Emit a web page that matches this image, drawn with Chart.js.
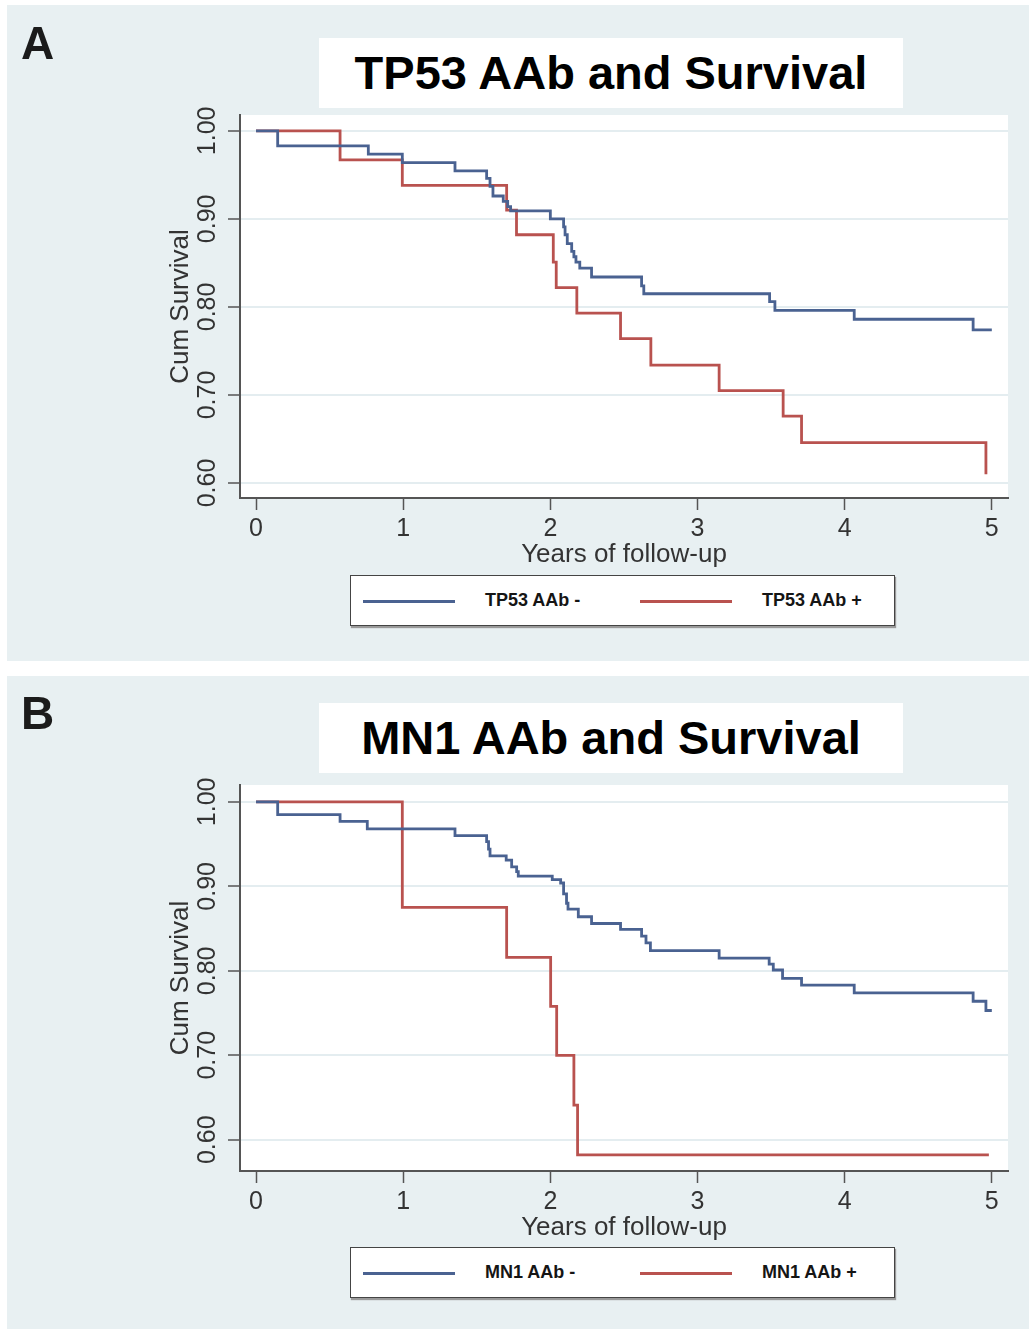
<!DOCTYPE html>
<html>
<head>
<meta charset="utf-8">
<title>TP53 / MN1 AAb and Survival</title>
<script src="https://cdn.jsdelivr.net/npm/chart.js@4.4.1/dist/chart.umd.min.js"></script>
<style>
  body { margin: 0; background: #fff; width: 1029px; height: 1329px; position: relative; overflow: hidden;
         font-family: "Liberation Sans", Arial, sans-serif; }
  .panel { position: absolute; left: 7px; width: 1022px; background: #e8f0f2; }
  #pA { top: 5px; height: 656px; }
  #pB { top: 676px; height: 653px; }
  canvas { position: absolute; left: 0; }
  .letter { position: absolute; left: 21px; font-weight: bold; font-size: 46px; color: #1b1b1b; line-height: 1; }
  .ttl { position: absolute; left: 319px; width: 584px; height: 70px; background: #fff; text-align: center;
         font-weight: bold; font-size: 47px; line-height: 70px; color: #000; }
  .legend { position: absolute; left: 350px; width: 543px; height: 49px; background: #fff;
            border: 1.5px solid #444; box-shadow: 1px 2px 1px #9a9a9a; }
  .legend .ln { position: absolute; top: 24px; width: 92px; height: 3px; }
  .legend .tx { position: absolute; top: 14px; font-size: 18px; font-weight: bold; color: #151515; white-space: nowrap; }
</style>
</head>
<body>
<div class="panel" id="pA"></div>
<div class="panel" id="pB"></div>

<canvas id="chartA" width="1029" height="570" style="top:0"></canvas>
<canvas id="chartB" width="1029" height="567" style="top:676px"></canvas>

<div class="letter" style="top:20px">A</div>
<div class="ttl" style="top:38px">TP53 AAb and Survival</div>
<div class="legend" style="top:575px">
  <span class="ln" style="left:12px;background:#4a6291"></span><span class="tx" style="left:134px">TP53 AAb -</span>
  <span class="ln" style="left:289px;background:#b9524f"></span><span class="tx" style="left:411px">TP53 AAb +</span>
</div>

<div class="letter" style="top:690px">B</div>
<div class="ttl" style="top:703px">MN1 AAb and Survival</div>
<div class="legend" style="top:1247px">
  <span class="ln" style="left:12px;background:#4a6291"></span><span class="tx" style="left:134px">MN1 AAb -</span>
  <span class="ln" style="left:289px;background:#b9524f"></span><span class="tx" style="left:411px">MN1 AAb +</span>
</div>

<script>
// Kaplan-Meier steps: time of each drop (years) and survival after it
const tp53NegYears = [0, 0.147, 0.763, 0.994, 1.352, 1.567, 1.59, 1.61, 1.68, 1.71, 1.73, 2.00, 2.09, 2.10, 2.115, 2.145, 2.16, 2.174, 2.20, 2.28, 2.62, 2.635, 3.49, 3.526, 4.065, 4.873, 5.0];
const tp53NegSurv  = [1.0, 0.983, 0.9735, 0.964, 0.9545, 0.946, 0.937, 0.926, 0.92, 0.914, 0.909, 0.90, 0.891, 0.882, 0.872, 0.863, 0.857, 0.851, 0.844, 0.834, 0.824, 0.815, 0.806, 0.796, 0.786, 0.774, 0.774];
const tp53PosYears = [0, 0.571, 0.994, 1.703, 1.77, 2.02, 2.04, 2.18, 2.477, 2.683, 3.147, 3.582, 3.707, 4.96];
const tp53PosSurv  = [1.0, 0.967, 0.938, 0.910, 0.882, 0.851, 0.822, 0.793, 0.764, 0.734, 0.705, 0.676, 0.646, 0.610];

const mn1NegYears = [0, 0.147, 0.571, 0.756, 1.352, 1.567, 1.58, 1.59, 1.70, 1.737, 1.771, 1.782, 2.013, 2.07, 2.09, 2.11, 2.12, 2.19, 2.28, 2.477, 2.62, 2.65, 2.68, 3.147, 3.487, 3.515, 3.578, 3.707, 4.065, 4.873, 4.96, 5.0];
const mn1NegSurv  = [1.0, 0.985, 0.977, 0.968, 0.960, 0.953, 0.944, 0.936, 0.931, 0.923, 0.9175, 0.912, 0.908, 0.904, 0.891, 0.880, 0.873, 0.864, 0.856, 0.849, 0.841, 0.833, 0.824, 0.815, 0.808, 0.801, 0.791, 0.783, 0.774, 0.764, 0.753, 0.753];
const mn1PosYears = [0, 0.994, 1.703, 2.002, 2.043, 2.16, 2.185, 4.98];
const mn1PosSurv  = [1.0, 0.875, 0.816, 0.758, 0.700, 0.641, 0.582, 0.582];

const xTickVals = [0, 1, 2, 3, 4, 5];
const yTickVals = [0.6, 0.7, 0.8, 0.9, 1.0];

const BLUE = '#4a6291';
const RED = '#b9524f';
const AXIS = '#555';
const TXT = '#333';

const plotBg = {
    id: 'plotBg',
    beforeDraw(chart) {
        const a = chart.chartArea, ctx = chart.ctx;
        ctx.save();
        ctx.fillStyle = '#fff';
        ctx.fillRect(a.left, a.top, a.right - a.left, a.bottom - a.top);
        ctx.restore();
    }
};

// y tick labels are turned on their side, as in the original
const sideLabels = {
    id: 'sideLabels',
    afterDraw(chart) {
        const ctx = chart.ctx, y = chart.scales.y;
        ctx.save();
        ctx.font = '25px "Liberation Sans", Arial, sans-serif';
        ctx.fillStyle = TXT;
        ctx.textAlign = 'center';
        ctx.textBaseline = 'middle';
        yTickVals.forEach(v => {
            ctx.save();
            ctx.translate(208, y.getPixelForValue(v));
            ctx.rotate(-Math.PI / 2);
            ctx.fillText(v.toFixed(2), 0, 0);
            ctx.restore();
        });
        ctx.restore();
    }
};

function pts(xs, ys) {
    return xs.map((x, i) => ({ x: x, y: ys[i] }));
}

function makeChart(id, negT, negS, posT, posS, yMin, yMax, topPad) {
    new Chart(document.getElementById(id), {
        type: 'line',
        data: {
            datasets: [
                { label: 'neg', data: pts(negT, negS), borderColor: BLUE, borderWidth: 2.8, stepped: true, pointRadius: 0 },
                { label: 'pos', data: pts(posT, posS), borderColor: RED, borderWidth: 2.8, stepped: true, pointRadius: 0 }
            ]
        },
        options: {
            responsive: false,
            animation: false,
            layout: { padding: { left: 165, top: topPad, right: 21, bottom: 0 } },
            plugins: { legend: { display: false }, title: { display: false }, tooltip: { enabled: false } },
            scales: {
                x: {
                    type: 'linear', min: -0.109, max: 5.11,
                    afterBuildTicks: s => { s.ticks = xTickVals.map(v => ({ value: v })); },
                    afterFit: s => { s.height = 72; },
                    grid: { drawOnChartArea: false, drawTicks: true, tickLength: 12, tickColor: AXIS, tickWidth: 1.5 },
                    border: { display: true, color: AXIS, width: 2 },
                    ticks: { font: { size: 25, family: '"Liberation Sans", Arial, sans-serif' }, color: TXT, padding: 4, maxRotation: 0,
                             callback: v => String(v) },
                    title: { display: true, text: 'Years of follow-up', color: TXT, padding: 0,
                             font: { size: 26, family: '"Liberation Sans", Arial, sans-serif' } }
                },
                y: {
                    type: 'linear', min: yMin, max: yMax,
                    afterBuildTicks: s => { s.ticks = yTickVals.map(v => ({ value: v })); },
                    afterFit: s => { s.width = 75; },
                    grid: { color: '#e4edf0', lineWidth: 2, drawTicks: true, tickLength: 12, tickColor: AXIS, tickWidth: 1.5 },
                    border: { display: true, color: AXIS, width: 2 },
                    ticks: { display: false },
                    title: { display: true, text: 'Cum Survival', color: TXT, padding: 0,
                             font: { size: 26, family: '"Liberation Sans", Arial, sans-serif' } }
                }
            }
        },
        plugins: [plotBg, sideLabels]
    });
}

makeChart('chartA', tp53NegYears, tp53NegSurv, tp53PosYears, tp53PosSurv, 0.583, 1.018, 115);
makeChart('chartB', mn1NegYears, mn1NegSurv, mn1PosYears, mn1PosSurv, 0.563, 1.020, 109);
</script>
</body>
</html>
